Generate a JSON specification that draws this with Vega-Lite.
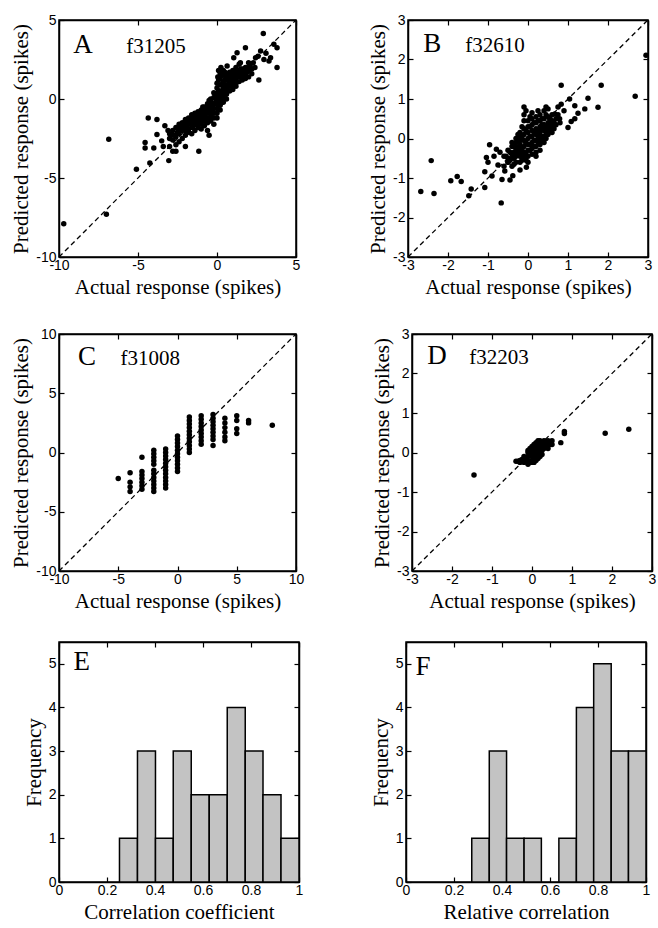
{
"$schema": "https://vega.github.io/schema/vega-lite/v6.json",
"padding": {"left": 10, "top": 12, "right": 2, "bottom": 5},
"background": "white",
"datasets": {
"diagA": [{"x": -10, "y": -10, "x2": 5, "y2": 5}],
"diagB": [{"x": -3, "y": -3, "x2": 3, "y2": 3}],
"diagC": [{"x": -10, "y": -10, "x2": 10, "y2": 10}],
"scatA": [
{"x":-9.7,"y":-7.9},{"x":-7.0,"y":-7.3},{"x":-6.85,"y":-2.55},{"x":-5.1,"y":-4.45},{"x":-4.25,"y":-4.05},{"x":-3.05,"y":-3.9},{"x":-1.15,"y":-3.3},{"x":-4.55,"y":-2.75},{"x":-4.55,"y":-3.1},{"x":-4.35,"y":-1.2},{"x":-3.8,"y":-1.3},{"x":-3.8,"y":-2.25},{"x":-3.5,"y":-2.65},{"x":-4.0,"y":-3.1},{"x":-3.3,"y":-1.7},{"x":-3.1,"y":-2.0},{"x":-3.4,"y":-3.0},{"x":-2.6,"y":-3.3},{"x":-2.0,"y":-3.0},{"x":-0.5,"y":-2.3},
{"x":2.93,"y":4.15},{"x":3.8,"y":3.25},{"x":3.8,"y":2.0},{"x":2.65,"y":1.2},{"x":1.8,"y":3.25},{"x":1.27,"y":2.93},{"x":2.76,"y":3.04},{"x":3.39,"y":2.61},{"x":2.44,"y":2.61},{"x":3.6,"y":3.46},{"x":3.29,"y":2.41},{"x":2.97,"y":2.5},{"x":1.91,"y":1.98},{"x":0.64,"y":2.09},{"x":1.48,"y":2.3},{"x":1.06,"y":2.61},{"x":2.2,"y":1.9},{"x":2.6,"y":2.7},{"x":3.1,"y":2.9},{"x":2.3,"y":2.3},
{"x":-3.0,"y":-2.5},{"x":-3.0,"y":-3.0},{"x":-3.0,"y":-2.2},
{"x":-2.8,"y":-2.0},{"x":-2.8,"y":-2.6},{"x":-2.8,"y":-3.3},
{"x":-2.6,"y":-1.8},{"x":-2.6,"y":-2.4},{"x":-2.6,"y":-2.9},
{"x":-2.4,"y":-1.6},{"x":-2.4,"y":-2.2},{"x":-2.4,"y":-2.7},{"x":-2.4,"y":-1.9},
{"x":-2.2,"y":-1.5},{"x":-2.2,"y":-2.0},{"x":-2.2,"y":-2.5},{"x":-2.2,"y":-1.7},
{"x":-2.0,"y":-1.3},{"x":-2.0,"y":-1.8},{"x":-2.0,"y":-2.3},{"x":-2.0,"y":-2.0},{"x":-2.0,"y":-1.5},
{"x":-1.8,"y":-1.2},{"x":-1.8,"y":-1.6},{"x":-1.8,"y":-2.1},{"x":-1.8,"y":-1.4},{"x":-1.8,"y":-1.9},
{"x":-1.6,"y":-1.0},{"x":-1.6,"y":-1.4},{"x":-1.6,"y":-1.8},{"x":-1.6,"y":-2.2},{"x":-1.6,"y":-1.2},
{"x":-1.4,"y":-0.9},{"x":-1.4,"y":-1.3},{"x":-1.4,"y":-1.6},{"x":-1.4,"y":-2.0},{"x":-1.4,"y":-1.1},{"x":-1.4,"y":-1.5},
{"x":-1.2,"y":-0.8},{"x":-1.2,"y":-1.1},{"x":-1.2,"y":-1.4},{"x":-1.2,"y":-1.8},{"x":-1.2,"y":-1.0},{"x":-1.2,"y":-1.6},
{"x":-1.0,"y":-0.7},{"x":-1.0,"y":-1.0},{"x":-1.0,"y":-1.3},{"x":-1.0,"y":-1.6},{"x":-1.0,"y":-0.9},{"x":-1.0,"y":-1.2},{"x":-1.0,"y":-1.9},
{"x":-0.8,"y":-0.5},{"x":-0.8,"y":-0.8},{"x":-0.8,"y":-1.1},{"x":-0.8,"y":-1.4},{"x":-0.8,"y":-1.7},{"x":-0.8,"y":-0.7},{"x":-0.8,"y":-1.0},
{"x":-0.6,"y":-0.3},{"x":-0.6,"y":-0.6},{"x":-0.6,"y":-0.9},{"x":-0.6,"y":-1.2},{"x":-0.6,"y":-1.5},{"x":-0.6,"y":-2.0},{"x":-0.6,"y":-0.8},
{"x":-0.4,"y":-0.2},{"x":-0.4,"y":-0.5},{"x":-0.4,"y":-0.8},{"x":-0.4,"y":-1.1},{"x":-0.4,"y":-1.4},{"x":-0.4,"y":0.0},{"x":-0.4,"y":-0.6},
{"x":-0.2,"y":0.1},{"x":-0.2,"y":-0.3},{"x":-0.2,"y":-0.6},{"x":-0.2,"y":-0.9},{"x":-0.2,"y":-1.2},{"x":-0.2,"y":-1.6},{"x":-0.2,"y":0.4},
{"x":0.0,"y":0.3},{"x":0.0,"y":0.0},{"x":0.0,"y":-0.3},{"x":0.0,"y":-0.6},{"x":0.0,"y":-0.9},{"x":0.0,"y":-1.2},{"x":0.0,"y":0.7},{"x":0.0,"y":1.0},{"x":0.05,"y":1.4},{"x":0.1,"y":1.8},
{"x":0.2,"y":0.5},{"x":0.2,"y":0.2},{"x":0.2,"y":-0.1},{"x":0.2,"y":-0.4},{"x":0.2,"y":-0.7},{"x":0.2,"y":0.9},{"x":0.2,"y":1.3},{"x":0.2,"y":1.6},{"x":0.25,"y":2.0},
{"x":0.4,"y":0.7},{"x":0.4,"y":0.4},{"x":0.4,"y":0.1},{"x":0.4,"y":-0.2},{"x":0.4,"y":1.1},{"x":0.4,"y":1.5},{"x":0.4,"y":1.8},
{"x":0.6,"y":0.9},{"x":0.6,"y":0.6},{"x":0.6,"y":0.3},{"x":0.6,"y":1.3},{"x":0.6,"y":1.6},{"x":0.6,"y":0.0},
{"x":0.8,"y":1.0},{"x":0.8,"y":0.8},{"x":0.8,"y":0.5},{"x":0.8,"y":1.4},{"x":0.8,"y":1.7},
{"x":1.0,"y":1.2},{"x":1.0,"y":0.9},{"x":1.0,"y":1.5},{"x":1.0,"y":0.6},{"x":1.0,"y":1.8},
{"x":1.2,"y":1.3},{"x":1.2,"y":1.0},{"x":1.2,"y":1.6},{"x":1.2,"y":0.8},{"x":1.2,"y":2.0},
{"x":1.4,"y":1.4},{"x":1.4,"y":1.1},{"x":1.4,"y":1.7},{"x":1.4,"y":2.2},
{"x":1.6,"y":1.5},{"x":1.6,"y":1.2},{"x":1.6,"y":1.9},
{"x":1.8,"y":1.6},{"x":1.8,"y":2.0},{"x":1.8,"y":1.3},
{"x":2.0,"y":1.8},{"x":2.0,"y":2.3},{"x":2.0,"y":1.4},
{"x":-2.9,"y":-2.3},{"x":-2.7,"y":-2.3},{"x":-2.5,"y":-2.1},{"x":-2.3,"y":-1.8},{"x":-2.1,"y":-1.7},{"x":-1.9,"y":-1.6},{"x":-1.7,"y":-1.5},{"x":-1.5,"y":-1.3},{"x":-1.3,"y":-1.2},{"x":-1.1,"y":-1.1},{"x":-0.9,"y":-0.9},{"x":-0.7,"y":-0.7},{"x":-0.5,"y":-0.5},{"x":-0.3,"y":-0.4},{"x":-0.1,"y":-0.2},{"x":0.1,"y":0.1},{"x":0.3,"y":0.3},{"x":0.5,"y":0.5},{"x":0.7,"y":0.8},{"x":0.9,"y":1.1},{"x":1.1,"y":1.3},{"x":1.3,"y":1.5},{"x":1.5,"y":1.6},{"x":1.7,"y":1.7},{"x":1.9,"y":1.7},
{"x":-1.5,"y":-1.7},{"x":-1.1,"y":-1.4},{"x":-0.7,"y":-1.2},{"x":-0.3,"y":-0.8},{"x":0.1,"y":-0.4},{"x":0.3,"y":-0.2},{"x":-0.9,"y":-0.5},{"x":-0.5,"y":-0.1},{"x":0.1,"y":0.5},{"x":0.3,"y":0.9},{"x":0.5,"y":1.2},{"x":0.7,"y":1.5},{"x":0.9,"y":1.6},{"x":1.1,"y":1.7},{"x":0.3,"y":1.5},{"x":0.1,"y":1.2},{"x":0.5,"y":1.7},{"x":0.7,"y":1.2},{"x":0.9,"y":0.9},{"x":1.5,"y":1.9},{"x":1.3,"y":1.8},{"x":1.7,"y":1.4},{"x":2.2,"y":1.6},{"x":2.4,"y":2.0},{"x":2.1,"y":2.1}
],
"scatB": [
{"x":-2.68,"y":-1.34},{"x":-2.42,"y":-0.56},{"x":-2.35,"y":-1.39},{"x":-1.93,"y":-1.07},{"x":-1.77,"y":-0.96},{"x":-1.67,"y":-1.09},{"x":-1.42,"y":-1.28},{"x":-1.48,"y":-1.45},{"x":-1.08,"y":-1.24},{"x":-0.67,"y":-1.63},{"x":-0.96,"y":-0.16},{"x":-0.79,"y":-0.27},{"x":-1.04,"y":-0.48},{"x":-1.0,"y":-0.6},{"x":-1.08,"y":-0.84},{"x":-0.75,"y":-0.67},{"x":-0.58,"y":-0.82},{"x":-0.65,"y":-1.04},{"x":-0.38,"y":-0.94},{"x":-0.04,"y":-0.73},{"x":-0.5,"y":-0.6},{"x":-0.85,"y":-0.45},{"x":-0.7,"y":-0.35},{"x":-0.6,"y":-0.45},{"x":-0.2,"y":-0.8},{"x":-0.45,"y":-1.05},{"x":-0.9,"y":-0.95},
{"x":0.83,"y":1.35},{"x":1.83,"y":1.35},{"x":2.68,"y":1.07},{"x":2.95,"y":2.11},{"x":1.5,"y":1.02},{"x":1.75,"y":0.79},{"x":1.42,"y":0.75},{"x":1.25,"y":0.64},{"x":1.17,"y":0.5},{"x":1.0,"y":0.28},{"x":1.08,"y":0.43},{"x":0.83,"y":0.87},{"x":1.04,"y":1.0},{"x":1.17,"y":0.83},{"x":0.67,"y":0.62},{"x":0.79,"y":0.5},{"x":0.9,"y":0.7},{"x":0.75,"y":0.8},
{"x":-0.5,"y":-0.3},{"x":-0.5,"y":-0.5},{"x":-0.5,"y":-0.6},
{"x":-0.4,"y":-0.2},{"x":-0.4,"y":-0.4},{"x":-0.4,"y":-0.5},{"x":-0.4,"y":-0.1},{"x":-0.4,"y":-0.7},
{"x":-0.3,"y":-0.1},{"x":-0.3,"y":-0.3},{"x":-0.3,"y":-0.45},{"x":-0.3,"y":-0.6},{"x":-0.3,"y":0.0},{"x":-0.3,"y":-0.2},
{"x":-0.2,"y":0.0},{"x":-0.2,"y":-0.15},{"x":-0.2,"y":-0.3},{"x":-0.2,"y":-0.45},{"x":-0.2,"y":-0.6},{"x":-0.2,"y":0.15},{"x":-0.2,"y":-0.05},
{"x":-0.1,"y":0.1},{"x":-0.1,"y":-0.05},{"x":-0.1,"y":-0.2},{"x":-0.1,"y":-0.35},{"x":-0.1,"y":-0.5},{"x":-0.1,"y":0.25},{"x":-0.1,"y":0.8},{"x":-0.1,"y":0.6},{"x":-0.1,"y":0.45},
{"x":0.0,"y":0.15},{"x":0.0,"y":0.0},{"x":0.0,"y":-0.15},{"x":0.0,"y":-0.3},{"x":0.0,"y":-0.45},{"x":0.0,"y":0.3},{"x":0.0,"y":0.45},{"x":0.0,"y":-0.6},
{"x":0.1,"y":0.2},{"x":0.1,"y":0.05},{"x":0.1,"y":-0.1},{"x":0.1,"y":-0.25},{"x":0.1,"y":-0.4},{"x":0.1,"y":0.35},{"x":0.1,"y":0.5},
{"x":0.2,"y":0.25},{"x":0.2,"y":0.1},{"x":0.2,"y":-0.05},{"x":0.2,"y":-0.2},{"x":0.2,"y":-0.35},{"x":0.2,"y":0.4},{"x":0.2,"y":0.55},
{"x":0.3,"y":0.3},{"x":0.3,"y":0.15},{"x":0.3,"y":0.0},{"x":0.3,"y":-0.15},{"x":0.3,"y":0.45},{"x":0.3,"y":0.6},{"x":0.3,"y":-0.3},
{"x":0.4,"y":0.35},{"x":0.4,"y":0.2},{"x":0.4,"y":0.05},{"x":0.4,"y":-0.1},{"x":0.4,"y":0.5},{"x":0.4,"y":0.7},
{"x":0.5,"y":0.4},{"x":0.5,"y":0.25},{"x":0.5,"y":0.1},{"x":0.5,"y":0.55},{"x":0.5,"y":0.75},
{"x":0.6,"y":0.45},{"x":0.6,"y":0.3},{"x":0.6,"y":0.15},
{"x":0.7,"y":0.5},{"x":0.7,"y":0.35},
{"x":-0.45,"y":-0.35},{"x":-0.35,"y":-0.5},{"x":-0.25,"y":-0.4},{"x":-0.15,"y":-0.25},{"x":-0.05,"y":-0.1},{"x":0.05,"y":0.05},{"x":0.15,"y":0.15},{"x":0.25,"y":0.2},{"x":0.35,"y":0.25},{"x":0.45,"y":0.3},{"x":0.55,"y":0.35},{"x":-0.25,"y":-0.05},{"x":-0.15,"y":0.05},{"x":-0.05,"y":0.2},{"x":0.05,"y":0.3},{"x":0.15,"y":0.4},{"x":0.25,"y":0.45},{"x":0.35,"y":0.5},{"x":0.45,"y":0.6},{"x":-0.35,"y":-0.2},{"x":-0.05,"y":-0.4},{"x":0.05,"y":-0.3},{"x":0.15,"y":-0.2},{"x":0.25,"y":-0.1},{"x":0.35,"y":0.05},{"x":0.45,"y":0.15},{"x":0.55,"y":0.2},{"x":0.65,"y":0.25},{"x":-0.05,"y":0.7},{"x":0.1,"y":0.65},{"x":0.25,"y":0.7},{"x":0.45,"y":0.8},
{"x":-0.55,"y":-0.45},{"x":-0.45,"y":-0.55},{"x":-0.35,"y":-0.35},{"x":-0.25,"y":-0.25},{"x":-0.15,"y":-0.4},{"x":-0.15,"y":-0.55},{"x":-0.05,"y":-0.55},{"x":0.05,"y":-0.15},{"x":0.15,"y":-0.05},{"x":0.25,"y":0.05},{"x":0.35,"y":0.35},{"x":0.55,"y":0.5},{"x":0.65,"y":0.4},{"x":0.6,"y":0.6},{"x":-0.25,"y":0.1},{"x":-0.15,"y":0.3},{"x":0.05,"y":0.55},{"x":0.35,"y":-0.05},{"x":0.45,"y":0.0},{"x":0.2,"y":-0.45},{"x":-0.35,"y":-0.65},{"x":-0.6,"y":-0.7},{"x":0.8,"y":0.4},{"x":0.75,"y":0.6}
],
"scatC": [
{"x":-5,"y":-2.2},
{"x":-4,"y":-1.7},{"x":-4,"y":-2.5},{"x":-4,"y":-2.9},{"x":-4,"y":-3.3},
{"x":-3,"y":-0.4},{"x":-3,"y":-1.6},{"x":-3,"y":-1.9},{"x":-3,"y":-2.2},{"x":-3,"y":-2.5},{"x":-3,"y":-2.8},{"x":-3,"y":-3.1},
{"x":-2,"y":0.2},{"x":-2,"y":-0.1},{"x":-2,"y":-0.4},{"x":-2,"y":-0.7},{"x":-2,"y":-1.0},{"x":-2,"y":-1.5},{"x":-2,"y":-1.8},{"x":-2,"y":-2.1},{"x":-2,"y":-2.4},{"x":-2,"y":-2.7},{"x":-2,"y":-3.0},{"x":-2,"y":-3.3},
{"x":-1,"y":0.3},{"x":-1,"y":0.0},{"x":-1,"y":-0.3},{"x":-1,"y":-0.6},{"x":-1,"y":-0.9},{"x":-1,"y":-1.2},{"x":-1,"y":-1.5},{"x":-1,"y":-1.8},{"x":-1,"y":-2.1},{"x":-1,"y":-2.4},{"x":-1,"y":-2.7},{"x":-1,"y":-3.0},
{"x":0,"y":1.4},{"x":0,"y":1.1},{"x":0,"y":0.8},{"x":0,"y":0.5},{"x":0,"y":0.2},{"x":0,"y":-0.1},{"x":0,"y":-0.4},{"x":0,"y":-0.7},{"x":0,"y":-1.0},{"x":0,"y":-1.3},{"x":0,"y":-1.6},
{"x":1,"y":3.0},{"x":1,"y":2.7},{"x":1,"y":2.4},{"x":1,"y":2.1},{"x":1,"y":1.8},{"x":1,"y":1.5},{"x":1,"y":1.2},{"x":1,"y":0.9},{"x":1,"y":0.6},{"x":1,"y":0.3},{"x":1,"y":0.0},
{"x":2,"y":3.1},{"x":2,"y":2.8},{"x":2,"y":2.5},{"x":2,"y":2.2},{"x":2,"y":1.9},{"x":2,"y":1.6},{"x":2,"y":1.3},{"x":2,"y":1.0},{"x":2,"y":0.7},
{"x":3,"y":3.2},{"x":3,"y":2.9},{"x":3,"y":2.6},{"x":3,"y":2.3},{"x":3,"y":2.0},{"x":3,"y":1.7},{"x":3,"y":1.4},{"x":3,"y":1.1},{"x":3,"y":0.6},
{"x":4,"y":2.9},{"x":4,"y":2.5},{"x":4,"y":2.1},{"x":4,"y":1.7},{"x":4,"y":1.3},{"x":4,"y":1.0},
{"x":5,"y":3.1},{"x":5,"y":2.7},{"x":5,"y":2.0},{"x":5,"y":1.6},
{"x":6,"y":2.7},{"x":6,"y":2.5},
{"x":8,"y":2.3}
],
"scatD": [
{"x":-1.45,"y":-0.57},{"x":0.81,"y":0.53},{"x":0.81,"y":0.48},{"x":0.72,"y":0.25},{"x":1.83,"y":0.49},{"x":2.42,"y":0.59},
{"x":-0.4,"y":-0.22},
{"x":-0.3,"y":-0.2},{"x":-0.3,"y":-0.25},
{"x":-0.2,"y":-0.1},{"x":-0.2,"y":-0.2},{"x":-0.2,"y":-0.25},
{"x":-0.1,"y":0.0},{"x":-0.1,"y":-0.1},{"x":-0.1,"y":-0.2},{"x":-0.1,"y":-0.3},{"x":-0.1,"y":0.05},
{"x":0.0,"y":0.1},{"x":0.0,"y":0.0},{"x":0.0,"y":-0.1},{"x":0.0,"y":-0.2},{"x":0.0,"y":-0.25},{"x":0.0,"y":0.15},
{"x":0.05,"y":0.05},{"x":0.05,"y":-0.15},{"x":0.05,"y":0.2},
{"x":0.1,"y":0.2},{"x":0.1,"y":0.1},{"x":0.1,"y":0.0},{"x":0.1,"y":-0.1},{"x":0.1,"y":-0.2},{"x":0.1,"y":0.25},
{"x":0.15,"y":0.1},{"x":0.15,"y":-0.05},{"x":0.15,"y":0.3},
{"x":0.2,"y":0.3},{"x":0.2,"y":0.2},{"x":0.2,"y":0.1},{"x":0.2,"y":0.0},{"x":0.2,"y":-0.1},
{"x":0.25,"y":0.05},{"x":0.25,"y":-0.05},
{"x":0.3,"y":0.3},{"x":0.3,"y":0.2},{"x":0.3,"y":0.1},{"x":0.3,"y":0.25},
{"x":0.4,"y":0.3},{"x":0.4,"y":0.2},{"x":0.4,"y":0.1},{"x":0.4,"y":0.25},
{"x":0.5,"y":0.3},{"x":0.5,"y":0.2},
{"x":-0.35,"y":-0.22},{"x":-0.25,"y":-0.18},{"x":-0.15,"y":-0.15},{"x":-0.05,"y":-0.05},{"x":0.05,"y":0.1},{"x":0.15,"y":0.2},{"x":0.25,"y":0.25},{"x":0.35,"y":0.28},{"x":0.45,"y":0.28},{"x":-0.05,"y":-0.25},{"x":0.05,"y":-0.25},{"x":0.15,"y":-0.15},{"x":0.35,"y":0.15},{"x":0.45,"y":0.2},{"x":0.25,"y":0.15},{"x":-0.05,"y":0.1},{"x":0.05,"y":-0.05}
],
"histE": [
{"lo":0.252,"hi":0.327,"count":1},{"lo":0.327,"hi":0.402,"count":3},{"lo":0.402,"hi":0.476,"count":1},{"lo":0.476,"hi":0.551,"count":3},{"lo":0.551,"hi":0.626,"count":2},{"lo":0.626,"hi":0.701,"count":2},{"lo":0.701,"hi":0.776,"count":4},{"lo":0.776,"hi":0.850,"count":3},{"lo":0.850,"hi":0.925,"count":2},{"lo":0.925,"hi":1.0,"count":1}
],
"histF": [
{"lo":0.274,"hi":0.347,"count":1},{"lo":0.347,"hi":0.419,"count":3},{"lo":0.419,"hi":0.492,"count":1},{"lo":0.492,"hi":0.564,"count":1},{"lo":0.637,"hi":0.710,"count":1},{"lo":0.710,"hi":0.782,"count":4},{"lo":0.782,"hi":0.855,"count":5},{"lo":0.855,"hi":0.927,"count":3},{"lo":0.927,"hi":1.0,"count":3}
]
},
"vconcat": [
{"hconcat": [
{"width": 237, "height": 237,
 "layer": [
  {"data": {"name": "diagA"}, "mark": {"type": "rule", "strokeDash": [5, 3.5], "strokeWidth": 1.3, "color": "black"},
   "encoding": {
    "x": {"field": "x", "type": "quantitative", "scale": {"domain": [-10, 5], "nice": false, "zero": false}, "axis": {"values": [-10, -5, 0, 5], "title": "Actual response (spikes)"}},
    "y": {"field": "y", "type": "quantitative", "scale": {"domain": [-10, 5], "nice": false, "zero": false}, "axis": {"values": [-10, -5, 0, 5], "title": "Predicted response (spikes)"}},
    "x2": {"field": "x2"}, "y2": {"field": "y2"}}},
  {"data": {"name": "scatA"}, "mark": {"type": "circle", "size": 30, "color": "black", "opacity": 1},
   "encoding": {
    "x": {"field": "x", "type": "quantitative", "scale": {"domain": [-10, 5], "nice": false, "zero": false}, "axis": {"orient": "top", "values": [-10, -5, 0, 5], "labels": false, "title": null}},
    "y": {"field": "y", "type": "quantitative", "scale": {"domain": [-10, 5], "nice": false, "zero": false}, "axis": {"orient": "right", "values": [-10, -5, 0, 5], "labels": false, "title": null}}}},
  {"data": {"values": [{"label": "A"}]}, "mark": {"type": "text", "font": "Liberation Serif", "fontSize": 27, "align": "left", "baseline": "alphabetic", "color": "black"},
   "encoding": {"x": {"datum": -9.1, "type": "quantitative", "axis": null}, "y": {"datum": 2.9, "type": "quantitative", "axis": null}, "text": {"field": "label"}}},
  {"data": {"values": [{"label": "f31205"}]}, "mark": {"type": "text", "font": "Liberation Serif", "fontSize": 21, "align": "left", "baseline": "alphabetic", "color": "black"},
   "encoding": {"x": {"datum": -5.75, "type": "quantitative", "axis": null}, "y": {"datum": 2.9, "type": "quantitative", "axis": null}, "text": {"field": "label"}}}
 ],
 "resolve": {"axis": {"x": "independent", "y": "independent"}}
},
{"width": 240, "height": 237,
 "layer": [
  {"data": {"name": "diagB"}, "mark": {"type": "rule", "strokeDash": [5, 3.5], "strokeWidth": 1.3, "color": "black"},
   "encoding": {
    "x": {"field": "x", "type": "quantitative", "scale": {"domain": [-3, 3], "nice": false, "zero": false}, "axis": {"values": [-3, -2, -1, 0, 1, 2, 3], "title": "Actual response (spikes)"}},
    "y": {"field": "y", "type": "quantitative", "scale": {"domain": [-3, 3], "nice": false, "zero": false}, "axis": {"values": [-3, -2, -1, 0, 1, 2, 3], "title": "Predicted response (spikes)"}},
    "x2": {"field": "x2"}, "y2": {"field": "y2"}}},
  {"data": {"name": "scatB"}, "mark": {"type": "circle", "size": 30, "color": "black", "opacity": 1},
   "encoding": {
    "x": {"field": "x", "type": "quantitative", "scale": {"domain": [-3, 3], "nice": false, "zero": false}, "axis": {"orient": "top", "values": [-3, -2, -1, 0, 1, 2, 3], "labels": false, "title": null}},
    "y": {"field": "y", "type": "quantitative", "scale": {"domain": [-3, 3], "nice": false, "zero": false}, "axis": {"orient": "right", "values": [-3, -2, -1, 0, 1, 2, 3], "labels": false, "title": null}}}},
  {"data": {"values": [{"label": "B"}]}, "mark": {"type": "text", "font": "Liberation Serif", "fontSize": 27, "align": "left", "baseline": "alphabetic", "color": "black"},
   "encoding": {"x": {"datum": -2.62, "type": "quantitative", "axis": null}, "y": {"datum": 2.2, "type": "quantitative", "axis": null}, "text": {"field": "label"}}},
  {"data": {"values": [{"label": "f32610"}]}, "mark": {"type": "text", "font": "Liberation Serif", "fontSize": 21, "align": "left", "baseline": "alphabetic", "color": "black"},
   "encoding": {"x": {"datum": -1.57, "type": "quantitative", "axis": null}, "y": {"datum": 2.2, "type": "quantitative", "axis": null}, "text": {"field": "label"}}}
 ],
 "resolve": {"axis": {"x": "independent", "y": "independent"}}
}
]},
{"hconcat": [
{"width": 237, "height": 237,
 "layer": [
  {"data": {"name": "diagC"}, "mark": {"type": "rule", "strokeDash": [5, 3.5], "strokeWidth": 1.3, "color": "black"},
   "encoding": {
    "x": {"field": "x", "type": "quantitative", "scale": {"domain": [-10, 10], "nice": false, "zero": false}, "axis": {"values": [-10, -5, 0, 5, 10], "title": "Actual response (spikes)"}},
    "y": {"field": "y", "type": "quantitative", "scale": {"domain": [-10, 10], "nice": false, "zero": false}, "axis": {"values": [-10, -5, 0, 5, 10], "title": "Predicted response (spikes)"}},
    "x2": {"field": "x2"}, "y2": {"field": "y2"}}},
  {"data": {"name": "scatC"}, "mark": {"type": "circle", "size": 30, "color": "black", "opacity": 1},
   "encoding": {
    "x": {"field": "x", "type": "quantitative", "scale": {"domain": [-10, 10], "nice": false, "zero": false}, "axis": {"orient": "top", "values": [-10, -5, 0, 5, 10], "labels": false, "title": null}},
    "y": {"field": "y", "type": "quantitative", "scale": {"domain": [-10, 10], "nice": false, "zero": false}, "axis": {"orient": "right", "values": [-10, -5, 0, 5, 10], "labels": false, "title": null}}}},
  {"data": {"values": [{"label": "C"}]}, "mark": {"type": "text", "font": "Liberation Serif", "fontSize": 27, "align": "left", "baseline": "alphabetic", "color": "black"},
   "encoding": {"x": {"datum": -8.4, "type": "quantitative", "axis": null}, "y": {"datum": 7.4, "type": "quantitative", "axis": null}, "text": {"field": "label"}}},
  {"data": {"values": [{"label": "f31008"}]}, "mark": {"type": "text", "font": "Liberation Serif", "fontSize": 21, "align": "left", "baseline": "alphabetic", "color": "black"},
   "encoding": {"x": {"datum": -4.8, "type": "quantitative", "axis": null}, "y": {"datum": 7.4, "type": "quantitative", "axis": null}, "text": {"field": "label"}}}
 ],
 "resolve": {"axis": {"x": "independent", "y": "independent"}}
},
{"width": 240, "height": 237,
 "layer": [
  {"data": {"name": "diagB"}, "mark": {"type": "rule", "strokeDash": [5, 3.5], "strokeWidth": 1.3, "color": "black"},
   "encoding": {
    "x": {"field": "x", "type": "quantitative", "scale": {"domain": [-3, 3], "nice": false, "zero": false}, "axis": {"values": [-3, -2, -1, 0, 1, 2, 3], "title": "Actual response (spikes)"}},
    "y": {"field": "y", "type": "quantitative", "scale": {"domain": [-3, 3], "nice": false, "zero": false}, "axis": {"values": [-3, -2, -1, 0, 1, 2, 3], "title": "Predicted response (spikes)"}},
    "x2": {"field": "x2"}, "y2": {"field": "y2"}}},
  {"data": {"name": "scatD"}, "mark": {"type": "circle", "size": 30, "color": "black", "opacity": 1},
   "encoding": {
    "x": {"field": "x", "type": "quantitative", "scale": {"domain": [-3, 3], "nice": false, "zero": false}, "axis": {"orient": "top", "values": [-3, -2, -1, 0, 1, 2, 3], "labels": false, "title": null}},
    "y": {"field": "y", "type": "quantitative", "scale": {"domain": [-3, 3], "nice": false, "zero": false}, "axis": {"orient": "right", "values": [-3, -2, -1, 0, 1, 2, 3], "labels": false, "title": null}}}},
  {"data": {"values": [{"label": "D"}]}, "mark": {"type": "text", "font": "Liberation Serif", "fontSize": 27, "align": "left", "baseline": "alphabetic", "color": "black"},
   "encoding": {"x": {"datum": -2.62, "type": "quantitative", "axis": null}, "y": {"datum": 2.25, "type": "quantitative", "axis": null}, "text": {"field": "label"}}},
  {"data": {"values": [{"label": "f32203"}]}, "mark": {"type": "text", "font": "Liberation Serif", "fontSize": 21, "align": "left", "baseline": "alphabetic", "color": "black"},
   "encoding": {"x": {"datum": -1.57, "type": "quantitative", "axis": null}, "y": {"datum": 2.25, "type": "quantitative", "axis": null}, "text": {"field": "label"}}}
 ],
 "resolve": {"axis": {"x": "independent", "y": "independent"}}
}
]},
{"hconcat": [
{"width": 240, "height": 240,
 "layer": [
  {"data": {"name": "histE"}, "mark": {"type": "bar", "fill": "#c3c3c3", "stroke": "black", "strokeWidth": 1.5},
   "encoding": {
    "x": {"field": "lo", "type": "quantitative", "scale": {"domain": [0, 1], "nice": false, "zero": false}, "axis": {"values": [0, 0.2, 0.4, 0.6, 0.8, 1], "format": "~g", "title": "Correlation coefficient"}},
    "x2": {"field": "hi"},
    "y": {"field": "count", "type": "quantitative", "scale": {"domain": [0, 5.5], "nice": false}, "axis": {"values": [0, 1, 2, 3, 4, 5], "title": "Frequency"}},
    "y2": {"datum": 0}}},
  {"data": {"values": [{"label": "E"}]}, "mark": {"type": "text", "font": "Liberation Serif", "fontSize": 27, "align": "left", "baseline": "alphabetic", "color": "black"},
   "encoding": {"x": {"datum": 0.06, "type": "quantitative", "scale": {"domain": [0, 1], "nice": false, "zero": false}, "axis": {"orient": "top", "values": [0, 0.2, 0.4, 0.6, 0.8, 1], "labels": false, "title": null}},
    "y": {"datum": 4.85, "type": "quantitative", "scale": {"domain": [0, 5.5], "nice": false}, "axis": {"orient": "right", "values": [0, 1, 2, 3, 4, 5], "labels": false, "title": null}}, "text": {"field": "label"}}}
 ],
 "resolve": {"axis": {"x": "independent", "y": "independent"}}
},
{"width": 240, "height": 240,
 "layer": [
  {"data": {"name": "histF"}, "mark": {"type": "bar", "fill": "#c3c3c3", "stroke": "black", "strokeWidth": 1.5},
   "encoding": {
    "x": {"field": "lo", "type": "quantitative", "scale": {"domain": [0, 1], "nice": false, "zero": false}, "axis": {"values": [0, 0.2, 0.4, 0.6, 0.8, 1], "format": "~g", "title": "Relative correlation"}},
    "x2": {"field": "hi"},
    "y": {"field": "count", "type": "quantitative", "scale": {"domain": [0, 5.5], "nice": false}, "axis": {"values": [0, 1, 2, 3, 4, 5], "title": "Frequency"}},
    "y2": {"datum": 0}}},
  {"data": {"values": [{"label": "F"}]}, "mark": {"type": "text", "font": "Liberation Serif", "fontSize": 27, "align": "left", "baseline": "alphabetic", "color": "black"},
   "encoding": {"x": {"datum": 0.04, "type": "quantitative", "scale": {"domain": [0, 1], "nice": false, "zero": false}, "axis": {"orient": "top", "values": [0, 0.2, 0.4, 0.6, 0.8, 1], "labels": false, "title": null}},
    "y": {"datum": 4.75, "type": "quantitative", "scale": {"domain": [0, 5.5], "nice": false}, "axis": {"orient": "right", "values": [0, 1, 2, 3, 4, 5], "labels": false, "title": null}}, "text": {"field": "label"}}}
 ],
 "resolve": {"axis": {"x": "independent", "y": "independent"}}
}
]}
],
"spacing": 28,
"config": {
 "locale": {"number": {"decimal": ".", "thousands": ",", "grouping": [3], "currency": ["$", ""], "minus": "-"}},
 "concat": {"spacing": 65},
 "view": {"stroke": "black", "strokeWidth": 1.5},
 "axis": {"grid": false, "domainColor": "black", "domainWidth": 1.5, "tickColor": "black", "tickSize": -5, "tickWidth": 1.2, "labelFont": "Liberation Sans", "labelFontSize": 14, "labelColor": "black", "labelFlush": false, "labelOverlap": false, "titleFont": "Liberation Serif", "titleFontSize": 21, "titleFontWeight": "normal", "titleColor": "black", "titlePadding": 4},
 "axisX": {"labelPadding": 6},
 "axisY": {"labelPadding": 8},
 "text": {"font": "Liberation Serif"}
}
}
